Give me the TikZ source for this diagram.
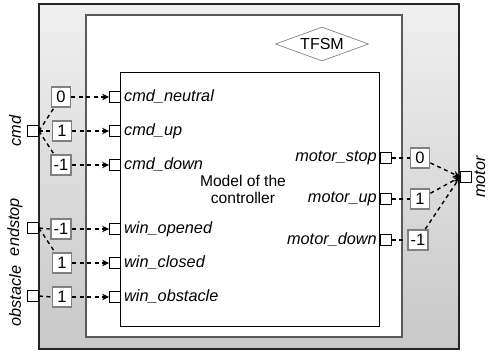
\documentclass[tikz,border=0pt]{standalone}
\usepackage{fontspec}
\setmainfont{Liberation Sans}
\usetikzlibrary{arrows.meta,shapes.geometric}
\definecolor{boxgray}{HTML}{808080}
\definecolor{shtop}{HTML}{F0F0F0}
\definecolor{shbot}{HTML}{C8C8C8}
\begin{document}
\begin{tikzpicture}[x=1pt,y=-1pt,
  lab/.style={font=\fontsize{16.3}{18}\selectfont\itshape, inner sep=0pt},
  port/.style={draw=black, fill=white, line width=0.8pt, minimum size=11pt, inner sep=0pt},
  constbox/.style={draw=boxgray, fill=white, line width=1.8pt, minimum width=19pt, minimum height=20pt, inner xsep=3pt, inner ysep=1pt, font=\fontsize{16.5}{17}\selectfont},
  conn/.style={dash pattern=on 4pt off 3.5pt, line width=1.4pt},
  arr/.style={conn, -{Stealth[length=7pt,width=6.5pt]}},
]
\useasboundingbox (0,0) rectangle (488,354);
% frames
\shade[top color=shtop, bottom color=shbot] (39,4) rectangle (459,349);
\draw[black!85, line width=1.3pt] (39,4) rectangle (459,349);
\draw[fill=white, draw=black!65, line width=1.3pt] (86,15) rectangle (402,337);
\draw[black, line width=0.9pt] (120,72) rectangle (379,326);
\node[diamond, draw=black!55, line width=0.6pt, minimum width=93pt, minimum height=34pt, inner sep=0pt, aspect=2.7, font=\fontsize{16}{17}\selectfont] (tfsm) at (322,44) {TFSM};
\node[font=\fontsize{15.6}{17}\selectfont, align=center] (model) at (243,189) {Model of the\\controller};
% outer ports
\node[port] (cmd) at (33,131) {};
\node[port] (endstop) at (33,228) {};
\node[port] (obst) at (33,296) {};
\node[lab, rotate=90] (cmdl) at (15,131) {cmd};
\node[lab, rotate=90] (endl) at (15,227) {endstop};
\node[lab, rotate=90] (obsl) at (15,296) {obstacle};
\node[port] (motor) at (466,177) {};
\node[lab, rotate=90] (motl) at (480,177) {motor};
% input ports
\node[port] (pn) at (115,97) {};
\node[port] (pu) at (115,131) {};
\node[port] (pd) at (115,165) {};
\node[port] (po) at (115,229) {};
\node[port] (pc) at (115,263) {};
\node[port] (pb) at (115,297) {};
\node[lab, anchor=west] (ln) at (124,97) {cmd\_neutral};
\node[lab, anchor=west] (lu) at (124,131) {cmd\_up};
\node[lab, anchor=west] (ld) at (124,165) {cmd\_down};
\node[lab, anchor=west] (lo) at (124,229) {win\_opened};
\node[lab, anchor=west] (lc) at (124,263) {win\_closed};
\node[lab, anchor=west] (lb) at (124,297) {win\_obstacle};
% output ports
\node[port] (ms) at (386,158) {};
\node[port] (mu) at (386,199) {};
\node[port] (md) at (386,240) {};
\node[lab, anchor=east] (lms) at (377,158) {motor\_stop};
\node[lab, anchor=east] (lmu) at (377,199) {motor\_up};
\node[lab, anchor=east] (lmd) at (377,240) {motor\_down};
% constants
\node[constbox] (c0) at (61,97) {0};
\node[constbox] (c1) at (62,131) {1};
\node[constbox] (c2) at (61,165) {-1};
\node[constbox] (e1) at (61,229) {-1};
\node[constbox] (e2) at (62,263) {1};
\node[constbox] (o1) at (62,297) {1};
\node[constbox] (k0) at (420,158) {0};
\node[constbox] (k1) at (420,199) {1};
\node[constbox] (k2) at (418,240) {-1};
% connectors
\draw[conn] (cmd.east) -- (c0);
\draw[conn] (cmd.east) -- (c1.west);
\draw[conn] (cmd.east) -- (c2);
\draw[conn] (endstop.east) -- (e1.west);
\draw[conn] (endstop.east) -- (e2);
\draw[conn] (obst.east) -- (o1.west);
\draw[arr] (c0.east) -- (pn.west);
\draw[arr] (c1.east) -- (pu.west);
\draw[arr] (c2.east) -- (pd.west);
\draw[arr] (e1.east) -- (po.west);
\draw[arr] (e2.east) -- (pc.west);
\draw[arr] (o1.east) -- (pb.west);
\draw[conn] (ms.east) -- (k0.west);
\draw[conn] (mu.east) -- (k1.west);
\draw[conn] (md.east) -- (k2.west);
\draw[arr] (k0) -- (motor.west);
\draw[arr] (k1) -- (motor.west);
\draw[arr] (k2) -- (motor.west);
\end{tikzpicture}
\end{document}
